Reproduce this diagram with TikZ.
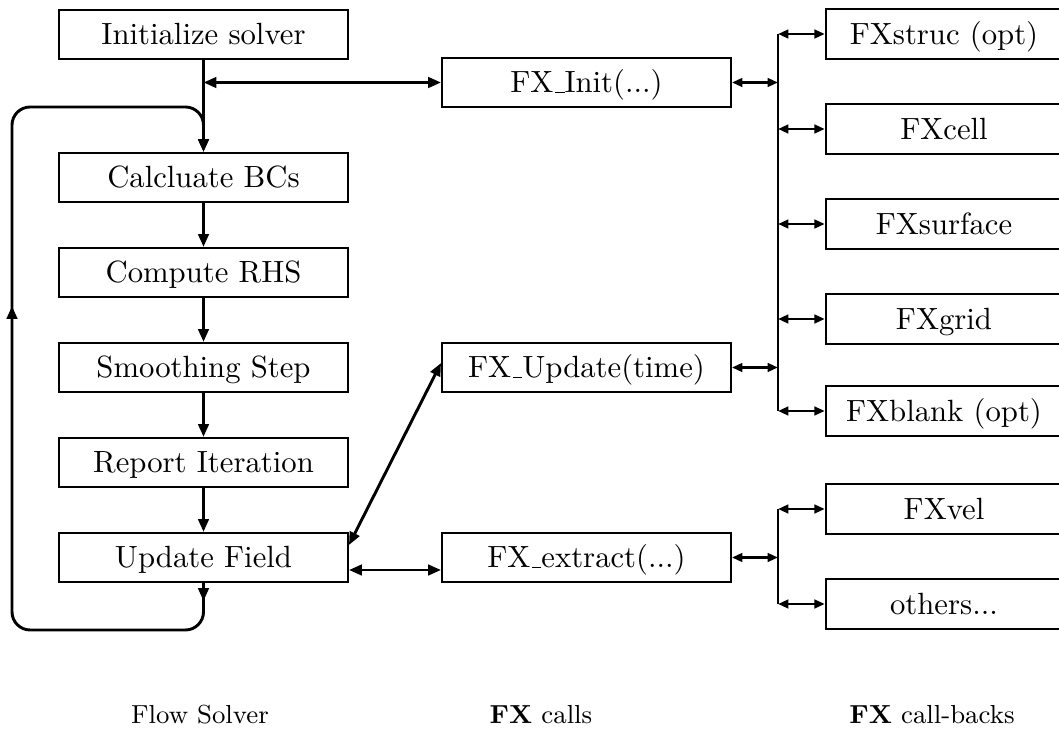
\documentclass[tikz,border=0pt]{standalone}
\usetikzlibrary{arrows.meta,calc}
\newcommand\fxus{\leavevmode\kern.06em\vbox{\hrule width.3em}}
\begin{document}
\begin{tikzpicture}[x=0.3257pt,y=-0.3257pt,
  box/.style={draw,line width=0.65pt,minimum width=94.1pt,minimum height=16pt,inner sep=0pt,
    text height=8.6pt,text depth=1.8pt,font=\fontsize{10}{12}\selectfont},
  rbox/.style={box,minimum width=77pt},
  conn/.style={line width=0.95pt},
  tip/.style={-{Triangle[length=4.2pt,width=3.4pt]}},
  dbl/.style={conn,{Triangle[length=4.2pt,width=3.4pt]}-{Triangle[length=4.2pt,width=3.4pt]}},
  sdbl/.style={conn,{Triangle[length=3.4pt,width=2.8pt]}-{Triangle[length=3.4pt,width=2.8pt]}},
  lab/.style={font=\fontsize{8.5}{10}\selectfont}]
\useasboundingbox (0,0) rectangle (1059,730);

% left column
\node[box] (init) at (203.5,34.5) {Initialize solver};
\node[box] (calc) at (203.5,177.5) {Calcluate BCs};
\node[box] (rhs) at (203.5,272.5) {Compute RHS};
\node[box] (smooth) at (203.5,367.5) {Smoothing Step};
\node[box] (report) at (203.5,462.5) {Report Iteration};
\node[box] (upd) at (203.5,557.5) {Update Field};

% middle column
\node[box] (finit) at (586.5,82.5) {FX\fxus Init(...)};
\node[box] (fupd) at (586.5,367.5) {FX\fxus Update(time)};
\node[box] (fext) at (586.5,557.5) {FX\fxus extract(...)};

% right column
\node[rbox] (fstruc) at (944,34) {FXstruc (opt)};
\node[rbox] (fcell) at (944,129) {FXcell};
\node[rbox] (fsurf) at (944,224) {FXsurface};
\node[rbox] (fgrid) at (944,319) {FXgrid};
\node[rbox] (fblank) at (944,411) {FXblank (opt)};
\node[rbox] (fvel) at (944,509) {FXvel};
\node[rbox] (fother) at (944,604) {others...};

% labels
\node[lab] (l1) at (200,715) {Flow Solver};
\node[lab] (l2) at (541,715) {\textbf{FX} calls};
\node[lab] (l3) at (932,715) {\textbf{FX} call-backs};

% flow solver chain
\draw[conn,tip] (init) -- (calc);
\draw[conn,tip] (calc) -- (rhs);
\draw[conn,tip] (rhs) -- (smooth);
\draw[conn,tip] (smooth) -- (report);
\draw[conn,tip] (report) -- (upd);

% loop
\coordinate (lb) at (12,630);
\coordinate (lt) at (12,107);
\coordinate (lmark) at (12,306);
\draw[conn,rounded corners=5.9pt,tip] (upd.south) -- (upd.south |- lb) -- (lb) -- (lt) -- (calc.north |- lt) -- (calc.north);
\draw[conn,tip] (upd.south) -- ++(0,18);
\draw[conn,tip] ($(lmark)+(0,24)$) -- (lmark);

% solver to FX calls
\draw[dbl] (init.south |- finit.west) -- (finit.west);
\draw[dbl] ([yshift=4.07pt]upd.east) -- ([yshift=1.47pt]fupd.west);
\draw[dbl] ([yshift=-4.07pt]upd.east) -- ([yshift=-4.07pt]fext.west);

% bus 1
\coordinate (bx) at (778,0);
\draw[conn] (bx |- fstruc.west) -- (bx |- fblank.west);
\draw[sdbl] (finit.east) -- (bx |- finit.east);
\draw[sdbl] (fupd.east) -- (bx |- fupd.east);
\foreach \n in {fstruc,fcell,fsurf,fgrid,fblank}{
  \draw[sdbl] (bx |- \n.west) -- (\n.west);
}
% bus 2
\draw[conn] (bx |- fvel.west) -- (bx |- fother.west);
\draw[sdbl] (fext.east) -- (bx |- fext.east);
\foreach \n in {fvel,fother}{
  \draw[sdbl] (bx |- \n.west) -- (\n.west);
}
\end{tikzpicture}
\end{document}
